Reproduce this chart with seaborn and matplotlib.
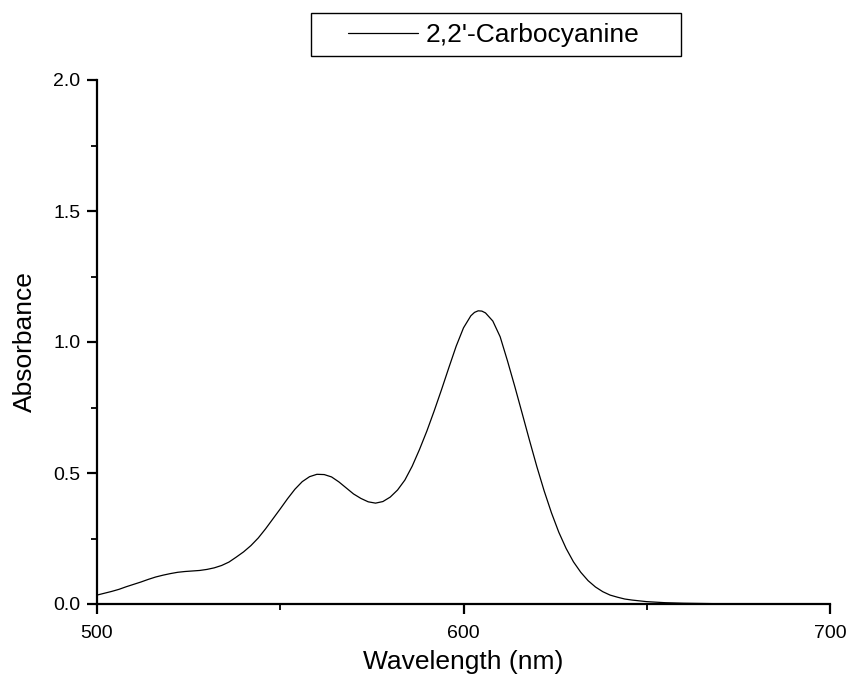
import matplotlib
matplotlib.use("Agg")
import matplotlib.pyplot as plt
from matplotlib.ticker import MultipleLocator, FormatStrFormatter
from matplotlib.lines import Line2D
from matplotlib.patches import Rectangle
import seaborn as sns
import pandas as pd

# Absorption spectrum of 2,2'-carbocyanine
wavelength = [500, 502, 504, 506, 508, 510, 512, 514, 516, 518, 520, 522, 524,
              526, 528, 530, 532, 534, 536, 538, 540, 542, 544, 546, 548, 550,
              552, 554, 556, 558, 560, 562, 564, 566, 568, 570, 572, 574, 576,
              578, 580, 582, 584, 586, 588, 590, 592, 594, 596, 598, 600, 602,
              603, 604, 605, 606, 608, 610, 612, 614, 616, 618, 620, 622, 624,
              626, 628, 630, 632, 634, 636, 638, 640, 642, 644, 646, 648, 650,
              655, 660, 665, 670, 680, 690, 700]
absorbance = [0.034, 0.041, 0.048, 0.056, 0.066, 0.075, 0.084, 0.094, 0.103,
              0.110, 0.116, 0.121, 0.124, 0.126, 0.128, 0.132, 0.138, 0.147,
              0.160, 0.179, 0.199, 0.223, 0.252, 0.287, 0.325, 0.363, 0.402,
              0.438, 0.467, 0.486, 0.495, 0.494, 0.485, 0.466, 0.443, 0.420,
              0.403, 0.390, 0.385, 0.391, 0.408, 0.435, 0.473, 0.526, 0.590,
              0.660, 0.737, 0.818, 0.902, 0.984, 1.054, 1.100, 1.113, 1.119,
              1.118, 1.111, 1.080, 1.020, 0.928, 0.830, 0.728, 0.625, 0.525,
              0.432, 0.348, 0.274, 0.212, 0.161, 0.121, 0.089, 0.065, 0.047,
              0.034, 0.026, 0.019, 0.015, 0.012, 0.009, 0.005, 0.003, 0.002,
              0.001, 0.0005, 0.0002, 0.0]
series_name = "2,2'-Carbocyanine"

df = pd.DataFrame({"Wavelength": wavelength, "Absorbance": absorbance,
                   "Sample": series_name})

sns.set_style("ticks")
plt.rcParams["font.family"] = ["Liberation Sans", "DejaVu Sans"]
plt.rcParams["text.color"] = "black"
plt.rcParams["axes.labelcolor"] = "black"
plt.rcParams["xtick.color"] = "black"
plt.rcParams["ytick.color"] = "black"

fig = plt.figure(figsize=(8.48, 6.88), dpi=100)
ax = fig.add_axes([97 / 848, 84 / 688, 733 / 848, 524 / 688])

sns.lineplot(data=df, x="Wavelength", y="Absorbance", hue="Sample",
             palette=["black"], linewidth=0.9, ax=ax, legend=False)

ax.set_xlim(500, 700)
ax.set_ylim(0, 2.0)
ax.xaxis.set_major_locator(MultipleLocator(100))
ax.xaxis.set_minor_locator(MultipleLocator(50))
ax.yaxis.set_major_locator(MultipleLocator(0.5))
ax.yaxis.set_minor_locator(MultipleLocator(0.25))
ax.yaxis.set_major_formatter(FormatStrFormatter("%.1f"))

for side in ("top", "right"):
    ax.spines[side].set_visible(False)
for side in ("left", "bottom"):
    ax.spines[side].set_linewidth(1.6)
    ax.spines[side].set_color("black")

ax.tick_params(which="major", direction="out", length=7, width=1.6,
               labelsize=14, pad=5)
ax.tick_params(axis="x", which="major", pad=8)
ax.tick_params(which="minor", direction="out", length=4, width=1.3)

ax.set_xlabel("Wavelength (nm)", fontsize=19, labelpad=6)
ax.set_ylabel("Absorbance", fontsize=19, labelpad=12)

# Legend entry placed above the plot, with a plain rectangular box around it
handle = Line2D([], [], color="black", linewidth=0.9)
fig.legend([handle], [series_name], loc="center left",
           bbox_to_anchor=(348 / 848, 1 - 35 / 688), fontsize=19,
           frameon=False, handlelength=2.65, handletextpad=0.3,
           borderpad=0, borderaxespad=0)
fig.add_artist(Rectangle((311 / 848, 1 - 56 / 688), 370 / 848, 43 / 688,
                         transform=fig.transFigure, fill=False,
                         edgecolor="black", linewidth=1.0))

fig.savefig("out.png", dpi=100, facecolor="white")
